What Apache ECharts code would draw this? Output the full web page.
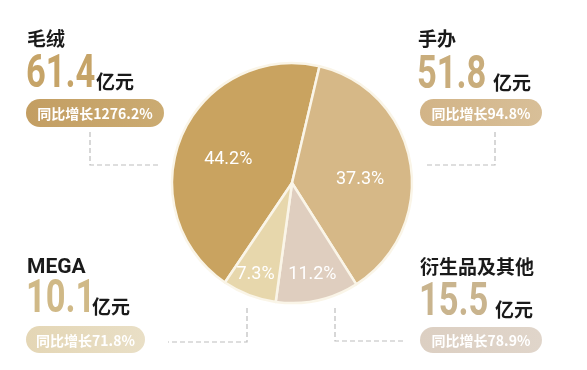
<!DOCTYPE html>
<html><head><meta charset="utf-8">
<script src="https://cdn.jsdelivr.net/npm/echarts@6/dist/echarts.min.js"></script>
<style>html,body{margin:0;padding:0;background:#fff}#c{width:587px;height:370px}</style>
</head><body><div id="c"></div>
<script>
// Data (clockwise order from the 毛绒 slice)
var categories = ['毛绒', '手办', '衍生品及其他', 'MEGA'];
var revenue = [61.4, 51.8, 15.5, 10.1];           // 亿元
var growth = ['1276.2%', '94.8%', '78.9%', '71.8%']; // 同比增长
var unit = '亿元';
var growthPrefix = '同比增长';

var sliceColors = ['#c9a360', '#d6b887', '#dfcebf', '#e7d7ac'];
var labelOffsets = [[-6, 2], [6, 7], [7, 30], [-14, 33]];
var numColors = ['#c6a468', '#c9ad7c', '#c9b48e', '#d0b987'];
var pillColors = [['#c39e62', '#cbab72'], ['#d2b487', '#d8bf98'], ['#dccfc2', '#e0d5ca'], ['#e4d6b5', '#e9dfc6']];

// layout blocks: [x, titleTop, numBottom, unitX, pillX, pillY, pillW, pillH]
var blocks = [
  [27, 29, 90, 96, 26, 99, 138, 28],
  [418, 29, 91, 493, 420, 99, 122, 27],
  [420, 257, 318, 495, 420, 327, 122, 26],
  [27, 257, 315, 92, 26, 326, 119, 27]
];
var dashes = [
  [[90, 132], [90, 165], [158, 165]],
  [[495, 132], [495, 165], [427, 165]],
  [[335, 308], [335, 341], [403, 341]],
  [[247, 308], [247, 342], [168, 342]]
];

var cjk = '"Noto Sans CJK SC",sans-serif';

var graphics = [];
categories.forEach(function (name, i) {
  var b = blocks[i];
  var isLatin = /^[A-Z]+$/.test(name);
  graphics.push({
    type: 'text',
    style: { text: name, x: b[0], y: b[1], fill: '#1a1a1a',
      font: 'bold ' + (isLatin ? 21 : 19) + 'px ' + (isLatin ? 'Roboto,sans-serif' : cjk),
      textVerticalAlign: 'top' }
  });
  graphics.push({
    type: 'text',
    x: b[0] - 1, y: b[2] + 8, scaleX: 0.75, scaleY: 1,
    style: { text: revenue[i].toFixed(1), x: 0, y: 0, fill: numColors[i],
      font: 'bold 46px Roboto,sans-serif', textVerticalAlign: 'bottom' }
  });
  graphics.push({
    type: 'text',
    style: { text: unit, x: b[3], y: b[2] + 1, fill: '#1a1a1a',
      font: 'bold 19px ' + cjk, textVerticalAlign: 'bottom' }
  });
  graphics.push({
    type: 'rect',
    shape: { x: b[4], y: b[5], width: b[6], height: b[7], r: b[7] / 2 },
    style: { fill: new echarts.graphic.LinearGradient(0, 0, 1, 0, [
      { offset: 0, color: pillColors[i][0] }, { offset: 1, color: pillColors[i][1] }]) }
  });
  graphics.push({
    type: 'text',
    style: { text: growthPrefix + growth[i], x: b[4] + b[6] / 2, y: b[5] + b[7] / 2 + 1,
      fill: '#ffffff', font: 'bold 14px ' + cjk, textAlign: 'center', textVerticalAlign: 'middle' }
  });
  graphics.push({
    type: 'polyline',
    shape: { points: dashes[i] },
    style: { stroke: '#bdbdbd', lineWidth: 1.2, lineDash: [5, 3], fill: null }
  });
});

var pieData = categories.map(function (name, i) {
  return { name: name, value: revenue[i], itemStyle: { color: sliceColors[i] },
    label: { offset: labelOffsets[i] } };
});

var chart = echarts.init(document.getElementById('c'), null, { renderer: 'canvas' });
chart.setOption({
  backgroundColor: '#ffffff',
  animation: false,
  series: [{
    type: 'pie',
    center: [292, 183],
    radius: 120,
    startAngle: 236,
    clockwise: true,
    silent: true,
    percentPrecision: 1,
    itemStyle: { borderColor: '#faf5e8', borderWidth: 2.5 },
    label: { show: true, position: 'inside', formatter: '{d}%', color: '#ffffff',
      fontSize: 18, fontWeight: 'normal', fontFamily: 'Roboto,sans-serif' },
    labelLine: { show: false },
    data: pieData
  }],
  graphic: graphics
});
</script></body></html>
